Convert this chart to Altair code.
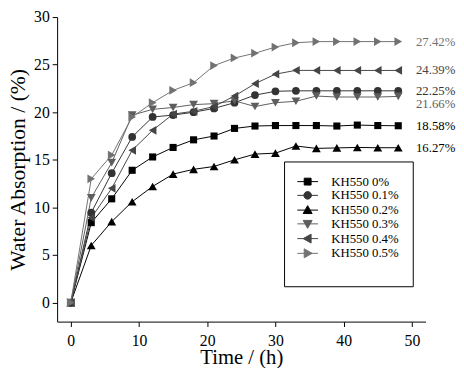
import altair as alt
import pandas as pd

# ---- data ----
time_h = [0, 3, 6, 9, 12, 15, 18, 21, 24, 27, 30, 33, 36, 39, 42, 45, 48]
kh_0 = [0, 8.4, 10.9, 13.9, 15.3, 16.3, 17.1, 17.5, 18.3, 18.55, 18.6, 18.6, 18.6, 18.55, 18.65, 18.6, 18.58]
kh_01 = [0, 9.45, 13.6, 17.4, 19.5, 19.7, 20.0, 20.4, 21.0, 21.8, 22.2, 22.25, 22.25, 22.25, 22.25, 22.25, 22.25]
kh_02 = [0, 6.0, 8.5, 10.6, 12.2, 13.5, 14.0, 14.3, 15.0, 15.6, 15.7, 16.45, 16.2, 16.25, 16.3, 16.27, 16.27]
kh_03 = [0, 11.0, 14.7, 19.7, 20.3, 20.5, 20.8, 20.9, 21.2, 20.6, 21.0, 21.15, 21.7, 21.6, 21.6, 21.6, 21.66]
kh_04 = [0, 8.9, 12.0, 16.0, 18.1, 19.8, 20.1, 20.6, 21.7, 23.0, 24.0, 24.4, 24.39, 24.39, 24.39, 24.39, 24.39]
kh_05 = [0, 13.0, 15.5, 19.5, 21.0, 22.3, 23.1, 24.9, 25.7, 26.2, 26.85, 27.3, 27.42, 27.42, 27.42, 27.42, 27.42]

series_names = ["KH550 0%", "KH550 0.1%", "KH550 0.2%", "KH550 0.3%", "KH550 0.4%", "KH550 0.5%"]
end_labels = ["18.58%", "22.25%", "16.27%", "21.66%", "24.39%", "27.42%"]

# ---- styling ----
colors = ["#000000", "#333333", "#000000", "#5e5e5e", "#454545", "#727272"]
point_shapes = ["square", "circle", "triangle-up", "triangle-down", "triangle-left", "triangle-right"]
point_sizes = [52, 62, 80, 80, 80, 80]
legend_paths = [
    "M-3,0H3M-1,-1H1V1H-1Z",
    "M-3,0H3M-1.1,0A1.1,1.1,0,1,1,1.1,0A1.1,1.1,0,1,1,-1.1,0Z",
    "M-3,0H3M0,-1.3L1.3,1L-1.3,1Z",
    "M-3,0H3M0,1.3L1.3,-1L-1.3,-1Z",
    "M-3,0H3M-1.3,0L1,-1.3L1,1.3Z",
    "M-3,0H3M1.3,0L-1,-1.3L-1,1.3Z",
]
FONT = "Liberation Serif"

all_values = [kh_0, kh_01, kh_02, kh_03, kh_04, kh_05]
rows = []
for name, vals in zip(series_names, all_values):
    for t, v in zip(time_h, vals):
        rows.append({"series": name, "time": t, "value": v})
df = pd.DataFrame(rows)

lab_rows = []
for name, vals, lab in zip(series_names, all_values, end_labels):
    lab_rows.append({"series": name, "time": time_h[-1], "value": vals[-1], "label": lab})
df_lab = pd.DataFrame(lab_rows)

x_enc = alt.X(
    "time:Q",
    scale=alt.Scale(domain=[-2, 52], nice=False, zero=False),
    axis=alt.Axis(
        title="Time / (h)",
        values=[0, 5, 10, 15, 20, 25, 30, 35, 40, 45, 50],
        labelExpr="datum.value % 10 == 0 ? datum.label : ''",
        tickSize={"condition": {"test": "datum.value % 10 != 0", "value": 3}, "value": 5},
        grid=False,
        domainColor="black",
        tickColor="black",
        labelColor="black",
        labelFont=FONT,
        labelFontSize=16,
        labelPadding=6,
        labelFlush=False,
        labelOverlap=False,
        titleFont=FONT,
        titleFontSize=21,
        titleFontWeight="normal",
        titleColor="black",
        titleBaseline="alphabetic",
        titleY=43,
    ),
)
y_enc = alt.Y(
    "value:Q",
    scale=alt.Scale(domain=[-2, 30], nice=False, zero=False),
    axis=alt.Axis(
        title="Water Absorption / (%)",
        values=[0, 2.5, 5, 7.5, 10, 12.5, 15, 17.5, 20, 22.5, 25, 27.5, 30],
        labelExpr="datum.value % 5 == 0 ? datum.label : ''",
        tickSize={"condition": {"test": "datum.value % 5 != 0", "value": 3}, "value": 5},
        grid=False,
        domainColor="black",
        tickColor="black",
        labelColor="black",
        labelFont=FONT,
        labelFontSize=16,
        labelPadding=3,
        labelOverlap=False,
        titleFont=FONT,
        titleFontSize=22,
        titleFontWeight="normal",
        titleColor="black",
        titleX=-28,
    ),
)

color_enc = alt.Color("series:N", scale=alt.Scale(domain=series_names, range=colors), legend=None)

base = alt.Chart(df)

lines = base.mark_line(strokeWidth=1).encode(x=x_enc, y=y_enc, color=color_enc, detail="series:N")

point_layers = []
for name, shp, sz in zip(series_names, point_shapes, point_sizes):
    point_layers.append(
        base.transform_filter(alt.datum.series == name)
        .mark_point(filled=True, opacity=1, strokeWidth=1, shape=shp, size=sz)
        .encode(x="time:Q", y="value:Q", color=color_enc)
    )

leg = alt.Legend(
    orient="none",
    legendX=231,
    legendY=147,
    title=" ",
    titleOrient="bottom",
    titleFontSize=8,
    titlePadding=4,
    strokeColor="black",
    fillColor="white",
    padding=14,
    symbolSize=49,
    symbolStrokeWidth=1,
    symbolOffset=3.5,
    labelOffset=17.5,
    rowPadding=0,
    labelFont=FONT,
    labelFontSize=13,
    labelColor="black",
    cornerRadius=0,
)
# legend carrier: its own marks are moved far outside the plot and clipped away
legend_layer = (
    base.transform_calculate(hidden="-1000")
    .mark_point(filled=True, opacity=1, size=49, strokeWidth=1, clip=True)
    .encode(
        x="time:Q",
        y="hidden:Q",
        shape=alt.Shape("series:N", scale=alt.Scale(domain=series_names, range=legend_paths), legend=leg),
        fill=alt.Fill("series:N", scale=alt.Scale(domain=series_names, range=colors), legend=leg),
        stroke=alt.Stroke("series:N", scale=alt.Scale(domain=series_names, range=colors), legend=leg),
    )
)

lab_base = alt.Chart(df_lab)
labels_main = lab_base.transform_filter("datum.label != '21.66%'").mark_text(
    align="left", baseline="middle", dx=18, font=FONT, fontSize=13
).encode(x="time:Q", y="value:Q", text="label:N", color=color_enc)
labels_shift = lab_base.transform_filter("datum.label == '21.66%'").mark_text(
    align="left", baseline="middle", dx=18, dy=8, font=FONT, fontSize=13
).encode(x="time:Q", y="value:Q", text="label:N", color=color_enc)

chart = (
    alt.layer(legend_layer, lines, *point_layers, labels_main, labels_shift)
    .properties(
        width=375,
        height=310,
        autosize=alt.AutoSizeParams(type="none"),
        padding={"left": 50, "top": 6, "right": 31, "bottom": 44},
        background="white",
    )
    .configure_view(stroke=None)
)

chart.save("out.html", embed_options={"renderer": "svg", "actions": False})
